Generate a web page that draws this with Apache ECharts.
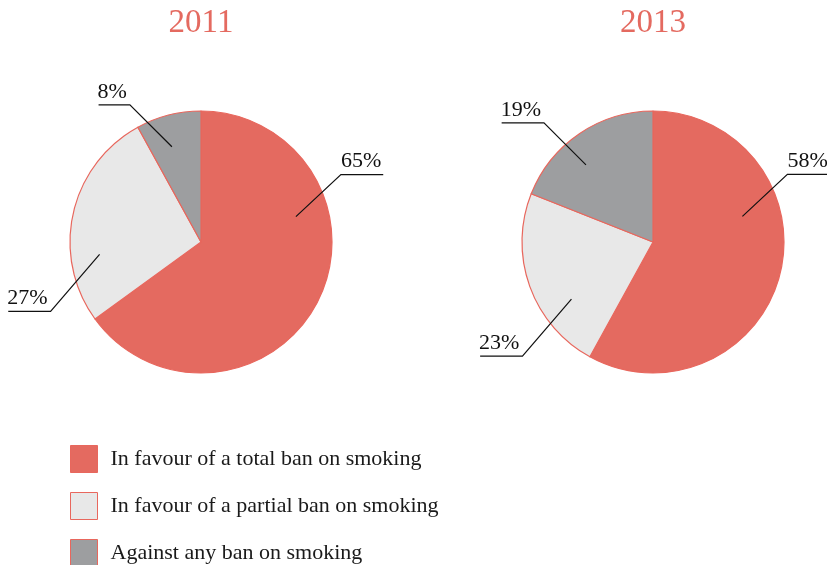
<!DOCTYPE html>
<html>
<head>
<meta charset="utf-8">
<script src="https://cdn.jsdelivr.net/npm/echarts@6/dist/echarts.min.js"></script>
<style>
html,body{margin:0;padding:0;background:#fff;}
#chart{width:827px;height:565px;}
</style>
</head>
<body>
<div id="chart"></div>
<script>
// ---- data ----
const years = ['2011', '2013'];
const categories = [
  'In favour of a total ban on smoking',
  'In favour of a partial ban on smoking',
  'Against any ban on smoking'
];
const values2011 = [65, 27, 8];
const values2013 = [58, 23, 19];

// ---- style / layout config ----
const colors = ['#E46A60', '#E8E8E8', '#9D9EA0'];
const borderColor = '#E8675D';
const serif = '"Liberation Serif", "Times New Roman", serif';
const centers = [[201, 242], [653, 242]];
const radius = 131;
// leader-line anchors: [angle deg clockwise from 12 o'clock, fraction of radius]
const labelAnchors = [
  [[75, 0.75], [263, 0.78], [343, 0.76]],
  [[74, 0.71], [235, 0.76], [319, 0.78]]
];

function makeLayout(si) {
  return function (p) {
    const c = centers[si];
    const anc = labelAnchors[si][p.dataIndex];
    const a = anc[0] * Math.PI / 180;
    const sx = c[0] + anc[1] * radius * Math.sin(a);
    const sy = c[1] - anc[1] * radius * Math.cos(a);
    const right = Math.sin(a) > 0;
    const up = Math.cos(a) > 0;
    const ex = sx + (right ? 45 : (up ? -42 : -49));
    const ey = sy + (up ? -42 : 57);
    const w = p.labelRect.width + 2;
    const fx = ex + (right ? w : -w);
    return {
      x: right ? ex : ex - 3,
      y: ey - 2,
      align: right ? 'left' : 'right',
      verticalAlign: 'bottom',
      labelLinePoints: [[sx, sy], [ex, ey], [fx, ey]]
    };
  };
}

function basePie(si, values) {
  return {
    type: 'pie',
    name: years[si],
    center: centers[si],
    radius: radius,
    startAngle: 90,
    clockwise: true,
    avoidLabelOverlap: false,
    silent: true,
    animation: false,
    emphasis: { disabled: true },
    data: categories.map((n, i) => ({ name: n, value: values[i] }))
  };
}

// visible slices
function slicePie(si, values) {
  return Object.assign(basePie(si, values), {
    z: 2,
    itemStyle: { borderColor: borderColor, borderWidth: 1.2 },
    label: { show: false },
    labelLine: { show: false }
  });
}

// transparent overlay that carries labels and leader lines above the slices
function labelPie(si, values) {
  return Object.assign(basePie(si, values), {
    z: 5,
    itemStyle: { color: 'rgba(0,0,0,0)', borderWidth: 0 },
    label: {
      show: true,
      position: 'outside',
      formatter: '{c}%',
      fontFamily: serif,
      fontSize: 22,
      color: '#111'
    },
    labelLine: {
      show: true,
      length: 20,
      length2: 20,
      lineStyle: { color: '#111', width: 1.2 }
    },
    labelLayout: makeLayout(si)
  });
}

const chart = echarts.init(document.getElementById('chart'), null, { renderer: 'canvas' });
chart.setOption({
  backgroundColor: '#ffffff',
  animation: false,
  color: colors,
  graphic: years.map((y, i) => ({
    type: 'text',
    x: centers[i][0],
    y: 7,
    style: {
      text: y,
      align: 'center',
      textAlign: 'center',
      verticalAlign: 'top',
      textVerticalAlign: 'top',
      fontFamily: serif,
      fontSize: 33,
      fill: '#E46A60'
    }
  })),
  legend: {
    data: categories,
    orient: 'vertical',
    left: 70,
    top: 445,
    height: 160,
    itemWidth: 27,
    itemHeight: 27,
    itemGap: 19,
    icon: 'rect',
    selectedMode: false,
    padding: 0,
    itemStyle: { borderColor: borderColor, borderWidth: 1 },
    textStyle: {
      fontFamily: serif,
      fontSize: 22,
      color: '#1a1a1a',
      padding: [0, 0, 0, 8]
    }
  },
  series: [
    slicePie(0, values2011), slicePie(1, values2013),
    labelPie(0, values2011), labelPie(1, values2013)
  ]
});
</script>
</body>
</html>
